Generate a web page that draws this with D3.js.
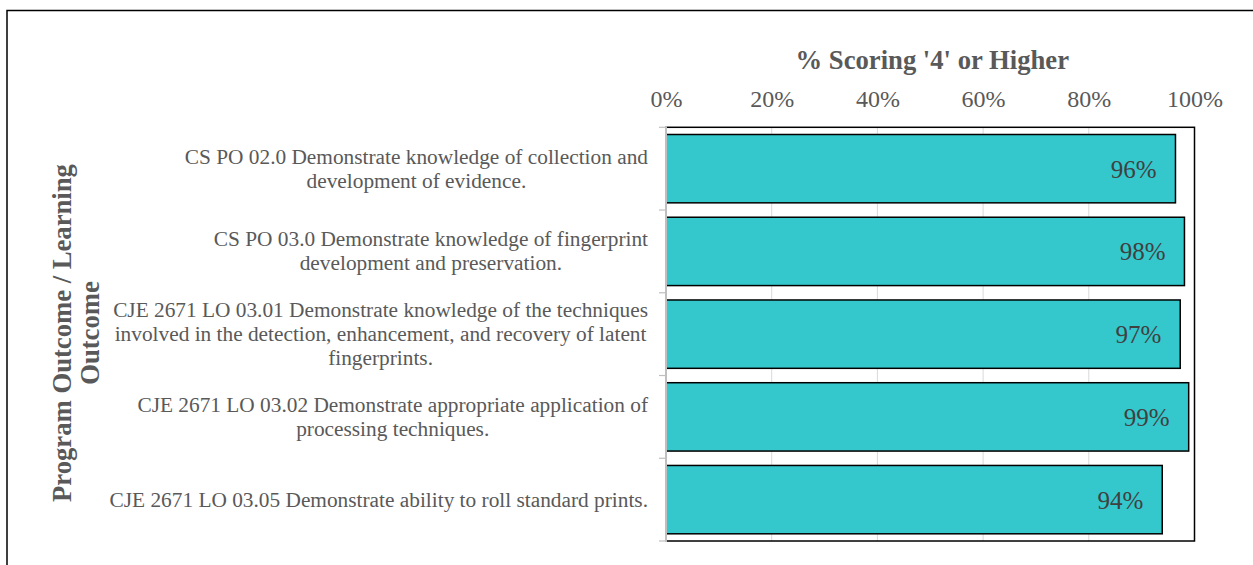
<!DOCTYPE html>
<html>
<head>
<meta charset="utf-8">
<script src="https://cdn.jsdelivr.net/npm/d3@7"></script>
<style>
  html, body { margin: 0; padding: 0; background: #fff; }
  svg { display: block; }
  text { font-family: "Liberation Serif", "Times New Roman", serif; }
</style>
</head>
<body>
<svg id="chart" width="1253" height="565"></svg>
<script>
// ---- data ----
const categories = [
  "CS PO 02.0 Demonstrate knowledge of collection and\ndevelopment of evidence.",
  "CS PO 03.0 Demonstrate knowledge of fingerprint\ndevelopment and preservation.",
  "CJE 2671 LO 03.01 Demonstrate knowledge of the techniques\ninvolved in the detection, enhancement, and recovery of latent\nfingerprints.",
  "CJE 2671 LO 03.02 Demonstrate appropriate application of\nprocessing techniques.",
  "CJE 2671 LO 03.05 Demonstrate ability to roll standard prints."
];
const values = [96.4, 98.1, 97.3, 98.9, 93.9];
const tickValues = [0, 20, 40, 60, 80, 100];
const xTitle = "% Scoring '4' or Higher";
const yTitleLines = ["Program Outcome / Learning", "Outcome"];

// ---- layout ----
const svg = d3.select("#chart");
const plot = { left: 666, right: 1194.5, top: 127.3, bottom: 541 };

// outer chart border
svg.append("rect")
  .attr("x", 7).attr("y", 10.5)
  .attr("width", 1253 - 7 + 5).attr("height", 565)
  .attr("fill", "none").attr("stroke", "#000").attr("stroke-width", 1.5);

const x = d3.scaleLinear().domain([0, 100]).range([plot.left, plot.right]);
const y = d3.scaleBand().domain(d3.range(categories.length))
  .range([plot.top, plot.bottom]).paddingInner(0.174).paddingOuter(0.087);

// gridlines
svg.append("g").selectAll("line")
  .data(tickValues.filter(d => d > 0 && d < 100))
  .join("line")
  .attr("x1", d => x(d)).attr("x2", d => x(d))
  .attr("y1", plot.top).attr("y2", plot.bottom)
  .attr("stroke", "#d9d9d9").attr("stroke-width", 1);

// plot border
svg.append("rect")
  .attr("x", plot.left).attr("y", plot.top)
  .attr("width", plot.right - plot.left).attr("height", plot.bottom - plot.top)
  .attr("fill", "none").attr("stroke", "#000").attr("stroke-width", 1.5);

// top axis (labels only)
const xAxis = d3.axisTop(x).tickValues(tickValues).tickFormat(d => d + "%").tickSize(0).tickPadding(0);
const gx = svg.append("g").attr("transform", `translate(0,${107})`).call(xAxis);
gx.select(".domain").remove();
gx.selectAll("text")
  .attr("dy", 0)
  .attr("fill", "#595959")
  .style("font-family", '"Liberation Serif", "Times New Roman", serif')
  .style("font-size", "24px");

// x title
svg.append("text")
  .attr("x", (plot.left + plot.right) / 2 + 2).attr("y", 69)
  .attr("text-anchor", "middle")
  .attr("fill", "#595959")
  .style("font-size", "26.67px").style("font-weight", "bold")
  .text(xTitle);

// bars
svg.append("g").selectAll("rect")
  .data(values)
  .join("rect")
  .attr("x", x(0))
  .attr("y", (d, i) => y(i))
  .attr("width", d => x(d) - x(0))
  .attr("height", y.bandwidth())
  .attr("fill", "#34c7cc")
  .attr("stroke", "#000").attr("stroke-width", 1.5);

// left category axis line + ticks at band boundaries
const step = y.step();
const boundaries = d3.range(categories.length + 1).map(i => plot.top + i * (plot.bottom - plot.top) / categories.length);
svg.append("g").selectAll("line")
  .data(boundaries)
  .join("line")
  .attr("x1", plot.left - 7).attr("x2", plot.left)
  .attr("y1", d => d).attr("y2", d => d)
  .attr("stroke", "#bfbfbf").attr("stroke-width", 1.2);
svg.append("line")
  .attr("x1", plot.left).attr("x2", plot.left)
  .attr("y1", plot.top - 1).attr("y2", plot.bottom + 1)
  .attr("stroke", "#bfbfbf").attr("stroke-width", 2);

// data labels
svg.append("g").selectAll("text")
  .data(values)
  .join("text")
  .attr("x", d => x(d) - 19)
  .attr("y", (d, i) => y(i) + y.bandwidth() / 2 + 9)
  .attr("text-anchor", "end")
  .attr("fill", "#404040")
  .style("font-size", "25px")
  .text(d => Math.round(d) + "%");

// category labels (multi-line, centered block, right-aligned to axis)
const labelRight = 648;
const lineH = 24;
categories.forEach((c, i) => {
  const lines = c.split("\n");
  const cy = y(i) + y.bandwidth() / 2;
  const t = svg.append("text")
    .attr("text-anchor", "middle")
    .attr("fill", "#595959")
    .style("font-size", "21.33px");
  const spans = lines.map((ln, k) => t.append("tspan")
    .attr("y", cy + (k - (lines.length - 1) / 2) * lineH + 7)
    .text(ln));
  const maxW = d3.max(spans, s => s.node().getComputedTextLength());
  spans.forEach(s => s.attr("x", labelRight - maxW / 2));
});

// y title (rotated, two lines)
const yt = svg.append("text")
  .attr("transform", `translate(0,333) rotate(-90)`)
  .attr("text-anchor", "middle")
  .attr("fill", "#595959")
  .style("font-size", "26.67px").style("font-weight", "bold");
yTitleLines.forEach((ln, k) => {
  yt.append("tspan").attr("x", 0).attr("y", 71 + k * 28).text(ln);
});
</script>
</body>
</html>
